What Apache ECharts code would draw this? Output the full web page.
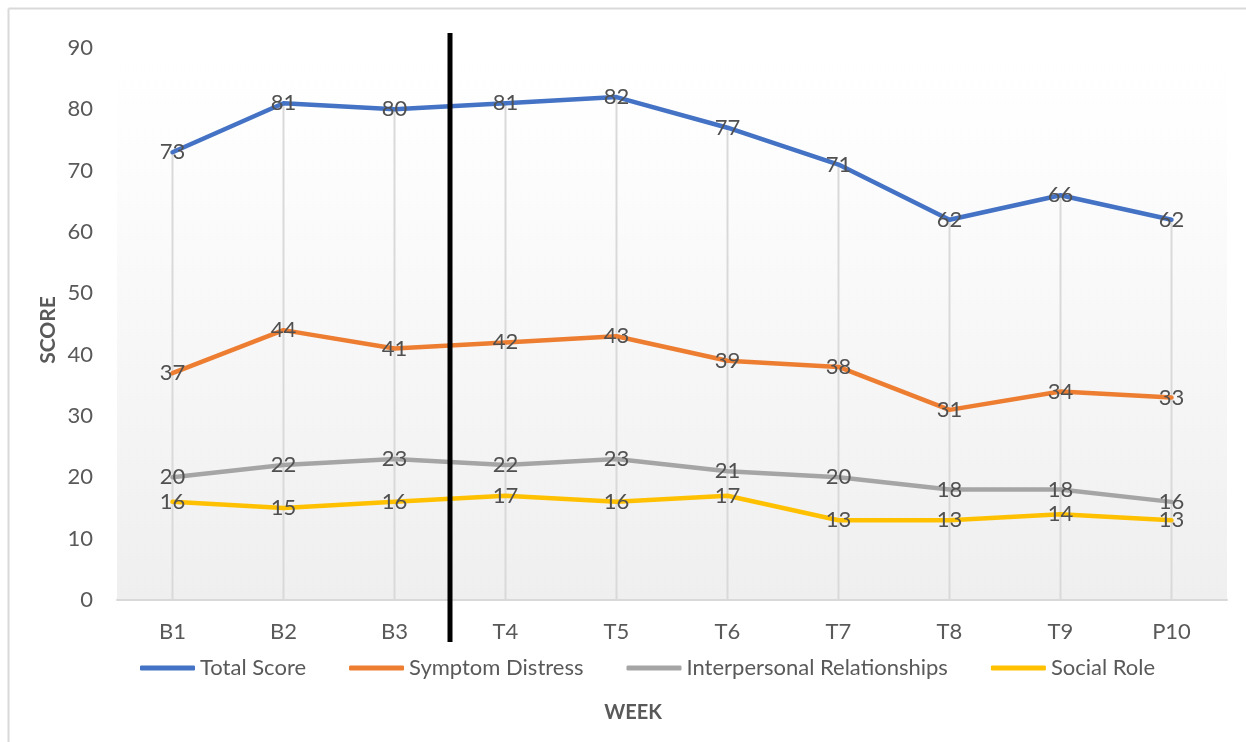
<!DOCTYPE html>
<html>
<head>
<meta charset="utf-8">
<script src="https://cdn.jsdelivr.net/npm/echarts@6/dist/echarts.min.js"></script>
<style>
html,body{margin:0;padding:0;background:#fff;}
#chart{width:1246px;height:742px;}
</style>
</head>
<body>
<div id="chart"></div>
<script>
const weeks = ['B1','B2','B3','T4','T5','T6','T7','T8','T9','P10'];
const totalScore = [73, 81, 80, 81, 82, 77, 71, 62, 66, 62];
const symptomDistress = [37, 44, 41, 42, 43, 39, 38, 31, 34, 33];
const interpersonal = [20, 22, 23, 22, 23, 21, 20, 18, 18, 16];
const socialRole = [16, 15, 16, 17, 16, 17, 13, 13, 14, 13];
const seriesNames = ['Total Score','Symptom Distress','Interpersonal Relationships','Social Role'];
const phaseBoundary = ['B3','T4'];

const FONT = 'Lato';
const TXT = '#595959';
const FS = 22;
const colors = ['#4472C4','#ED7D31','#A5A5A5','#FFC000'];
const datasets = [totalScore, symptomDistress, interpersonal, socialRole];

const chart = echarts.init(document.getElementById('chart'));

const lineSeries = datasets.map((d, i) => ({
  name: seriesNames[i],
  type: 'line',
  data: d,
  z: 3 + i,
  symbol: 'circle',
  symbolSize: 2,
  lineStyle: {width: 4.5, color: colors[i], cap: 'round', join: 'round'},
  itemStyle: {color: colors[i]},
  label: {
    show: true, position: 'inside', formatter: '{c}',
    color: '#505050', fontFamily: FONT, fontSize: FS
  },
  emphasis: {disabled: true}
}));

chart.setOption({
  animation: false,
  textStyle: {fontFamily: FONT},
  grid: {
    left: 117, right: 19, top: 48, bottom: 142,
    show: true, borderWidth: 0,
    backgroundColor: {
      type: 'linear', x: 0, y: 0, x2: 0, y2: 1,
      colorStops: [
        {offset: 0, color: '#ffffff'},
        {offset: 0.13, color: '#fefefe'},
        {offset: 1, color: '#efefef'}
      ]
    }
  },
  legend: {
    bottom: 58, left: 135,
    itemWidth: 55, itemHeight: 5, itemGap: 43,
    icon: 'roundRect',
    textStyle: {color: TXT, fontFamily: FONT, fontSize: FS, padding: [0,0,0,0]},
    data: seriesNames
  },
  xAxis: {
    type: 'category', data: weeks, boundaryGap: true,
    axisLine: {show: true, lineStyle: {color: '#d9d9d9', width: 2}},
    axisTick: {show: false},
    axisLabel: {color: TXT, fontFamily: FONT, fontSize: FS, margin: 21},
    splitLine: {show: false}
  },
  yAxis: {
    type: 'value', min: 0, max: 90, interval: 10,
    axisLine: {show: false}, axisTick: {show: false},
    axisLabel: {color: TXT, fontFamily: FONT, fontSize: FS, margin: 24},
    splitLine: {show: false}
  },
  series: [{
    name: 'drop',
    type: 'bar',
    data: totalScore,
    barWidth: 2,
    silent: true,
    z: 1,
    itemStyle: {color: '#d9d9d9'},
    emphasis: {disabled: true}
  }].concat(lineSeries)
});

const x1 = chart.convertToPixel({xAxisIndex: 0}, phaseBoundary[0]);
const x2 = chart.convertToPixel({xAxisIndex: 0}, phaseBoundary[1]);
const xm = (x1 + x2) / 2;

chart.setOption({
  graphic: [
    {type: 'line', shape: {x1: 8.5, y1: 8.5, x2: 1300, y2: 8.5}, style: {stroke: '#d9d9d9', lineWidth: 2}, z: 0},
    {type: 'line', shape: {x1: 8.5, y1: 8.5, x2: 8.5, y2: 800}, style: {stroke: '#d9d9d9', lineWidth: 2}, z: 0},
    {type: 'line', shape: {x1: xm, y1: 33, x2: xm, y2: 642}, style: {stroke: '#000', lineWidth: 5}, z: 100},
    {type: 'text', x: 633, y: 713,
      style: {text: 'WEEK', fill: TXT, font: 'bold 20px ' + FONT, align: 'center', verticalAlign: 'middle'}},
    {type: 'text', x: 48, y: 330, rotation: Math.PI / 2,
      style: {text: 'SCORE', fill: TXT, font: 'bold 21px ' + FONT, align: 'center', verticalAlign: 'middle'}}
  ]
});
</script>
</body>
</html>
